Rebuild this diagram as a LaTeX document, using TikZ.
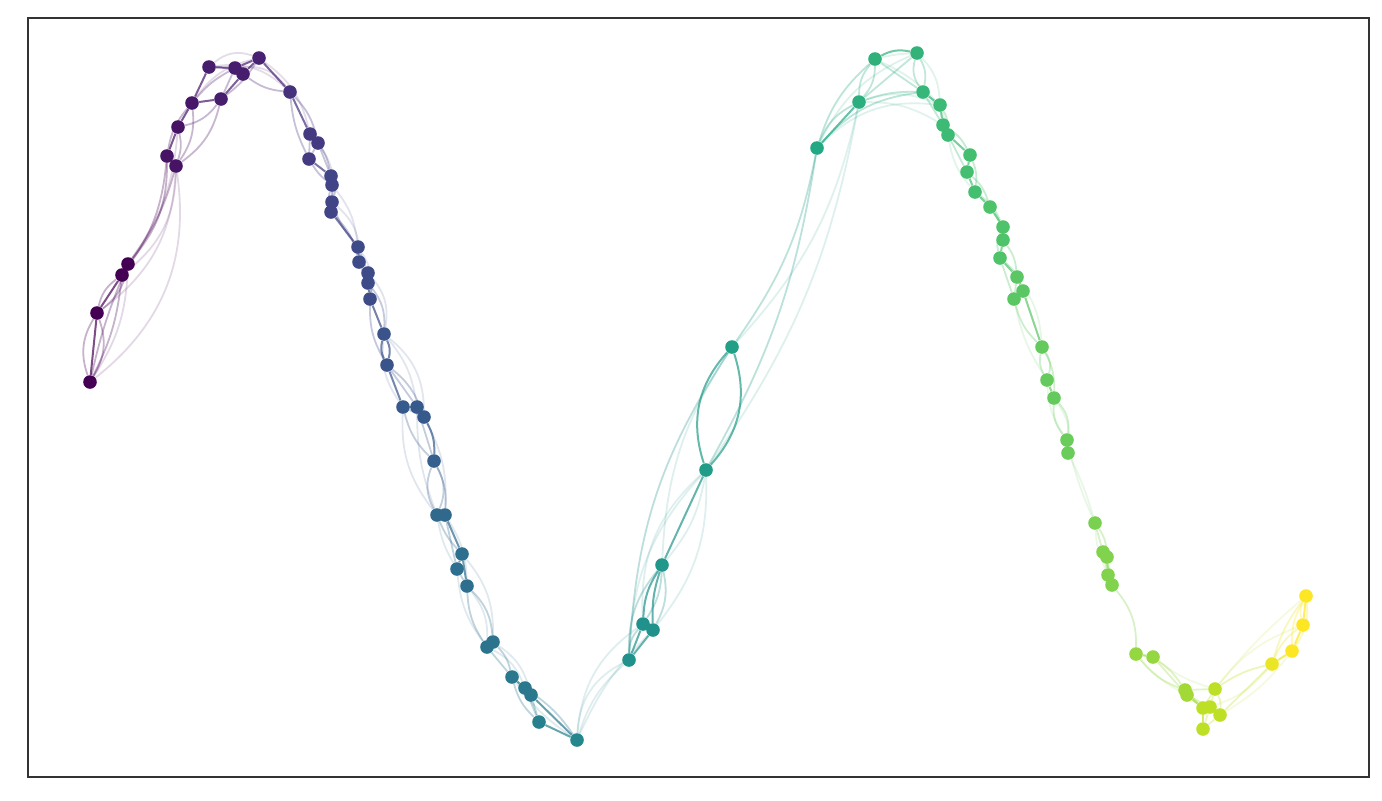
\documentclass[tikz,border=0pt]{standalone}
\usetikzlibrary{backgrounds}
\definecolor{v0}{HTML}{440154}
\definecolor{v1}{HTML}{482475}
\definecolor{v2}{HTML}{414487}
\definecolor{v3}{HTML}{355F8D}
\definecolor{v4}{HTML}{2A788E}
\definecolor{v5}{HTML}{21918C}
\definecolor{v6}{HTML}{22A884}
\definecolor{v7}{HTML}{44BF70}
\definecolor{v8}{HTML}{7AD151}
\definecolor{v9}{HTML}{BDDF26}
\definecolor{v10}{HTML}{FDE725}
\definecolor{framecol}{HTML}{333333}
\tikzset{
  dot/.style={circle,inner sep=0pt,minimum size=6.8pt,draw=none},
  e/.style={line width=0.9pt,opacity=0.3},
  es/.style={line width=1pt,opacity=0.7},
  ef/.style={line width=0.9pt,opacity=0.15},
}
\newcommand\nd[4]{\colorlet{c#1}{#4}\node[dot,fill=c#1] (#1) at (#2,#3) {};}
\begin{document}
\begin{tikzpicture}[x=0.5pt,y=-0.5pt]
\useasboundingbox (0,0) rectangle (1382,800);
% nodes
\nd{a1}{90}{382}{v0}
\nd{a2}{97}{313}{v0}
\nd{a3}{122}{275}{v0}
\nd{a4}{128}{264}{v0}
\nd{a5}{167}{156}{v0!50!v1}
\nd{a6}{176}{166}{v0!50!v1}
\nd{a7}{178}{127}{v0!50!v1}
\nd{a8}{192}{103}{v0!40!v1}
\nd{a9}{221}{99}{v1!80!v0}
\nd{a10}{209}{67}{v1!80!v0}
\nd{a11}{235}{68}{v1!80!v0}
\nd{a12}{243}{74}{v1!80!v0}
\nd{a13}{259}{58}{v1!90!v0}
\nd{a14}{290}{92}{v1!60!v2}
\nd{a15}{310}{134}{v1!30!v2}
\nd{a16}{318}{143}{v1!30!v2}
\nd{a17}{309}{159}{v1!30!v2}
\nd{a18}{331}{176}{v2}
\nd{a19}{332}{185}{v2}
\nd{a20}{332}{202}{v2}
\nd{a21}{331}{212}{v2}
\nd{b1}{358}{247}{v2!70!v3}
\nd{b2}{359}{262}{v2!70!v3}
\nd{b3}{368}{273}{v2!70!v3}
\nd{b4}{368}{283}{v2!70!v3}
\nd{b5}{370}{299}{v2!70!v3}
\nd{b6}{384}{334}{v2!40!v3}
\nd{b7}{387}{365}{v2!40!v3}
\nd{b8}{403}{407}{v3!80!v2}
\nd{b9}{417}{407}{v3!80!v2}
\nd{b10}{424}{417}{v3!80!v2}
\nd{b11}{434}{461}{v3}
\nd{b12}{437}{515}{v3!60!v4}
\nd{b13}{445}{515}{v3!60!v4}
\nd{b14}{462}{554}{v3!40!v4}
\nd{b15}{457}{569}{v3!40!v4}
\nd{b16}{467}{586}{v3!40!v4}
\nd{b17}{487}{647}{v4!80!v3}
\nd{b18}{493}{642}{v4!80!v3}
\nd{b19}{512}{677}{v4}
\nd{b20}{525}{688}{v4}
\nd{b21}{531}{695}{v4}
\nd{b22}{539}{722}{v4!70!v5}
\nd{b23}{577}{740}{v4!40!v5}
\nd{c1}{629}{660}{v5}
\nd{c2}{643}{624}{v5}
\nd{c3}{653}{630}{v5}
\nd{c4}{662}{565}{v5!80!v6}
\nd{c5}{706}{470}{v5!50!v6}
\nd{c6}{732}{347}{v5!40!v6}
\nd{c7}{817}{148}{v6}
\nd{c8}{859}{102}{v6!70!v7}
\nd{c9}{875}{59}{v6!60!v7}
\nd{c10}{917}{53}{v6!50!v7}
\nd{c11}{923}{92}{v6!40!v7}
\nd{c12}{940}{105}{v7!80!v6}
\nd{c13}{943}{125}{v7!80!v6}
\nd{c14}{948}{135}{v7!80!v6}
\nd{c15}{970}{155}{v7}
\nd{c16}{967}{172}{v7}
\nd{c17}{975}{192}{v7}
\nd{c18}{990}{207}{v7!80!v8}
\nd{c19}{1003}{227}{v7!80!v8}
\nd{c20}{1003}{240}{v7!80!v8}
\nd{c21}{1000}{258}{v7!80!v8}
\nd{c22}{1017}{277}{v7!60!v8}
\nd{c23}{1023}{291}{v7!60!v8}
\nd{c24}{1014}{299}{v7!60!v8}
\nd{c25}{1042}{347}{v7!40!v8}
\nd{c26}{1047}{380}{v7!40!v8}
\nd{c27}{1054}{398}{v7!40!v8}
\nd{c28}{1067}{440}{v7!30!v8}
\nd{c29}{1068}{453}{v7!30!v8}
\nd{d1}{1095}{523}{v8}
\nd{d2}{1103}{552}{v8!90!v9}
\nd{d3}{1107}{557}{v8!90!v9}
\nd{d4}{1108}{575}{v8!90!v9}
\nd{d5}{1112}{585}{v8!90!v9}
\nd{d6}{1136}{654}{v8!60!v9}
\nd{d7}{1153}{657}{v8!60!v9}
\nd{d8}{1185}{690}{v8!40!v9}
\nd{d9}{1187}{695}{v8!40!v9}
\nd{d10}{1215}{689}{v9}
\nd{d11}{1203}{708}{v9}
\nd{d12}{1210}{707}{v9}
\nd{d13}{1220}{715}{v9}
\nd{d14}{1203}{729}{v9}
\nd{e1}{1272}{664}{v10!70!v9}
\nd{e2}{1292}{651}{v10}
\nd{e3}{1303}{625}{v10}
\nd{e4}{1306}{596}{v10}
% edges
\begin{pgfonlayer}{background}
% strong
\foreach \p/\q/\r in {a1/a2/0,a2/a3/0,a3/a4/0,a5/a6/0,a5/a7/0,a7/a8/0,a8/a9/0,a8/a10/0,a9/a12/0,a10/a11/0,a11/a12/0,a11/a13/0,a12/a13/0,a13/a14/0,a14/a15/0,a15/a16/0,a17/a18/0,a18/a19/0,a20/a21/0,a21/b1/0,b1/b2/0,b3/b4/0,b4/b5/0,b5/b6/0,b6/b7/20,b6/b7/-20,b7/b8/0,b8/b9/0,b9/b10/0,b10/b11/15,b12/b13/0,b13/b14/0,b14/b15/0,b14/b16/0,b17/b18/0,b19/b20/0,b20/b21/0,b21/b23/0,b22/b23/0,c1/c2/0,c1/c3/0,c2/c3/0,c2/c4/15,c3/c4/10,c4/c5/0,c5/c6/30,c5/c6/-30,c7/c8/0,c9/c10/20,c11/c12/0,c12/c13/0,c13/c14/0,c14/c15/0,c15/c16/0,c16/c17/0,c17/c18/0,c18/c19/0,c19/c20/0,c20/c21/0,c21/c22/0,c22/c23/0,c23/c24/0,c23/c25/0,c26/c27/0,c28/c29/0,d2/d3/0,d3/d4/0,d4/d5/0,d6/d7/0,d8/d9/0,d9/d11/0,d11/d12/0,d12/d13/0,d11/d14/0,e1/e2/0,e2/e3/0,e3/e4/0}
  \draw[es,draw=c\p] (\p) to[bend left=\r] (\q);
% normal
\foreach \p/\q/\r in {a1/a2/25,a1/a2/-25,a1/a3/-10,a1/a4/5,a2/a4/-20,a2/a3/20,a3/a5/-15,a4/a6/-10,a4/a5/-20,a6/a7/-15,a5/a8/15,a6/a8/-20,a6/a9/-20,a7/a9/-20,a8/a11/10,a9/a11/0,a9/a13/-10,a10/a12/10,a12/a14/-15,a14/a16/15,a14/a17/-10,a15/a17/0,a16/a17/0,a15/a18/15,a16/a18/0,a17/a19/-10,a19/a20/0,a18/a20/20,a19/a21/-15,a20/b1/-10,a21/b2/15,b1/b3/0,b2/b3/0,b2/b4/0,b3/b5/15,b4/b6/20,b5/b7/-15,b7/b9/0,b7/b10/15,b8/b10/0,b9/b11/0,b8/b11/-15,b11/b12/25,b11/b12/-25,b11/b13/15,b12/b14/-10,b15/b16/0,b13/b15/0,b16/b17/-15,b16/b18/20,b17/b19/0,b18/b19/15,b19/b21/0,b19/b22/-15,b20/b22/0,b21/b22/0,b20/b23/10,c1/c2/20,c1/c4/20,c2/c4/-15,c3/c4/-20,c1/c6/15,c6/c7/-12,c5/c7/-10,c7/c8/20,c7/c9/15,c7/c11/20,c8/c9/20,c8/c9/-20,c8/c10/0,c8/c11/10,c9/c11/0,c10/c11/-25,c10/c11/20,c11/c13/0,c12/c14/15,c13/c15/15,c14/c16/0,c15/c17/15,c16/c18/15,c17/c19/15,c18/c20/15,c19/c21/-20,c20/c22/15,c21/c23/15,c22/c24/0,c21/c24/0,c24/c25/-15,c25/c26/25,c25/c26/-20,c25/c27/15,c27/c28/25,c27/c28/-20,d1/d2/0,d1/d3/15,d2/d4/0,d3/d5/0,d5/d6/20,d7/d8/10,d6/d8/-15,d7/d9/0,d8/d10/0,d8/d11/0,d9/d12/0,d10/d12/0,d10/d11/0,d12/d14/0,d13/d14/0,d10/d13/15,d10/e1/10,d13/e1/0,e1/e3/15,e1/e4/10,e2/e4/-20,e3/e4/20,e2/e4/15}
  \draw[e,draw=c\p] (\p) to[bend left=\r] (\q);
% faint
\foreach \p/\q/\r in {a1/a4/-15,a3/a6/-25,a1/a6/-30,a2/a6/-25,a4/a7/-15,a10/a13/30,a8/a13/20,a10/a14/25,a11/a14/30,a13/a15/20,a16/a20/20,a19/b1/15,a20/b2/25,b2/b5/20,b1/b5/20,b3/b6/25,b6/b8/-20,b6/b10/25,b6/b9/15,b8/b12/-20,b9/b12/-10,b10/b13/15,b13/b16/15,b12/b15/-10,b15/b17/-15,b14/b18/20,b16/b17/20,b17/b20/20,b18/b21/20,b19/b23/-10,b23/c1/15,b23/c1/30,b23/c2/25,b23/c3/10,c1/c5/20,c2/c5/25,c4/c5/-15,c3/c5/-20,c4/c6/15,c5/c8/-12,c6/c8/-15,c7/c12/25,c7/c10/20,c8/c13/15,c8/c12/20,c9/c12/10,c9/c10/5,c10/c12/20,c11/c14/20,c14/c17/-15,c22/c25/15,c24/c26/-10,c26/c28/-15,c27/c29/20,c29/d1/5,c28/d1/-5,d1/d4/-10,d6/d9/-10,d9/d13/-10,d7/d10/-10,d10/e4/5,d10/e3/15,d13/e2/-10,d12/e1/-15}
  \draw[ef,draw=c\p] (\p) to[bend left=\r] (\q);
\end{pgfonlayer}
\draw[framecol,line width=1pt] (28,18) rectangle (1369,777);
\end{tikzpicture}
\end{document}
